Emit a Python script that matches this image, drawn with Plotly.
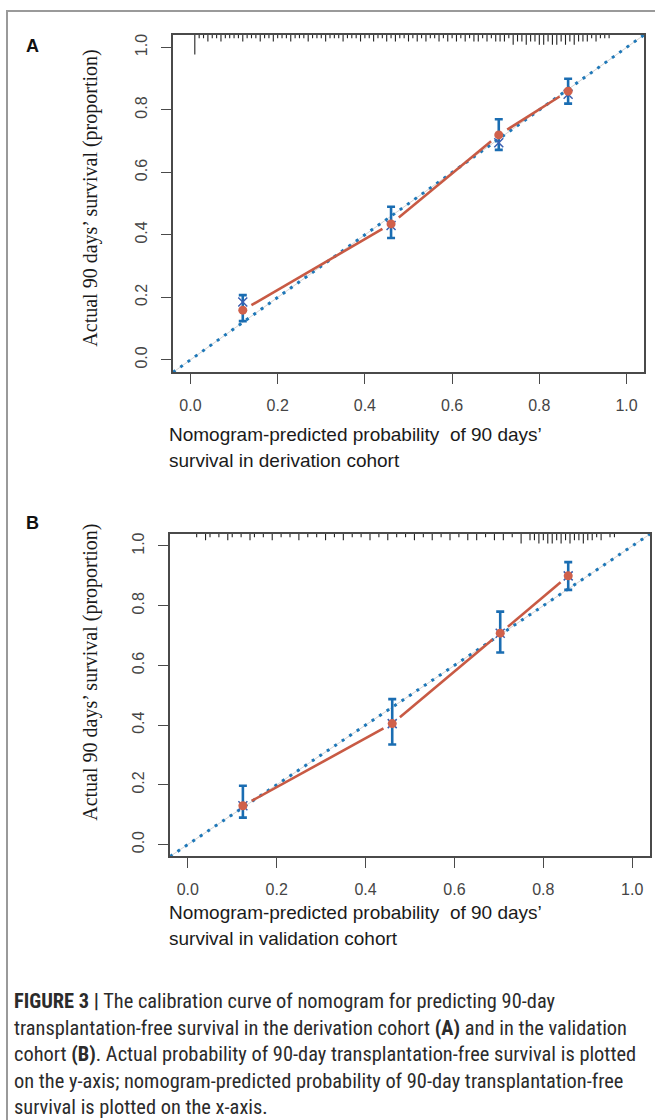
import numpy as np
import plotly.graph_objects as go

W, H = 655, 1120

# ---------------- data ----------------
axis_range = [-0.04, 1.04]
tick_vals = [0.0, 0.2, 0.4, 0.6, 0.8, 1.0]
tick_text = ["0.0", "0.2", "0.4", "0.6", "0.8", "1.0"]

# Panel A (derivation cohort)
pred_a = [0.120, 0.460, 0.707, 0.866]
obs_a = [0.159, 0.435, 0.720, 0.860]
lo_a = [0.124, 0.390, 0.672, 0.820]
hi_a = [0.207, 0.490, 0.770, 0.900]
bc_a = [0.185, 0.430, 0.695, 0.850]

# Panel B (validation cohort)
pred_b = [0.124, 0.460, 0.703, 0.856]
obs_b = [0.130, 0.405, 0.708, 0.900]
lo_b = [0.090, 0.335, 0.643, 0.853]
hi_b = [0.197, 0.487, 0.780, 0.946]
bc_b = [0.130, 0.405, 0.708, 0.900]

# distribution of predicted values (rug at top), position and relative frequency
rug_a_x = [0.01, 0.02, 0.03, 0.04, 0.05, 0.06, 0.07, 0.08, 0.09, 0.10,
           0.11, 0.12, 0.13, 0.14, 0.15, 0.16, 0.17, 0.18, 0.19, 0.20,
           0.21, 0.22, 0.23, 0.24, 0.25, 0.26, 0.27, 0.28, 0.29, 0.30,
           0.31, 0.32, 0.33, 0.34, 0.35, 0.36, 0.37, 0.38, 0.39, 0.40,
           0.41, 0.42, 0.43, 0.44, 0.45, 0.46, 0.47, 0.48, 0.49, 0.50,
           0.51, 0.52, 0.53, 0.54, 0.55, 0.56, 0.57, 0.58, 0.59, 0.60,
           0.61, 0.62, 0.63, 0.64, 0.65, 0.66, 0.67, 0.68, 0.69, 0.70,
           0.71, 0.72, 0.73, 0.74, 0.75, 0.76, 0.77, 0.78, 0.79, 0.80,
           0.81, 0.82, 0.83, 0.84, 0.85, 0.86, 0.87, 0.88, 0.89, 0.90,
           0.91, 0.92, 0.93, 0.94, 0.95, 0.96]
rug_a_n = [6, 1, 1, 2, 1, 1, 2, 1, 1, 1,
           1, 2, 1, 1, 1, 2, 1, 1, 2, 1,
           1, 1, 2, 1, 1, 1, 2, 1, 1, 1,
           2, 1, 1, 1, 2, 1, 1, 1, 2, 1,
           1, 2, 1, 1, 2, 1, 2, 1, 1, 2,
           1, 2, 1, 2, 1, 1, 2, 1, 2, 1,
           2, 1, 2, 1, 2, 2, 1, 2, 1, 2,
           2, 2, 1, 3, 2, 2, 3, 2, 2, 3,
           3, 2, 3, 3, 2, 3, 2, 3, 2, 2,
           2, 1, 2, 1, 1, 1]
rug_b_x = [0.02, 0.04, 0.05, 0.07, 0.09, 0.10, 0.12, 0.14, 0.15, 0.17,
           0.19, 0.21, 0.23, 0.25, 0.27, 0.29, 0.31, 0.33, 0.35, 0.37,
           0.39, 0.41, 0.43, 0.45, 0.47, 0.49, 0.51, 0.53, 0.55, 0.57,
           0.59, 0.61, 0.63, 0.65, 0.67, 0.69, 0.71, 0.73, 0.75, 0.77,
           0.78, 0.79, 0.80, 0.81, 0.82, 0.83, 0.84, 0.85, 0.86, 0.87,
           0.88, 0.89, 0.90, 0.91, 0.92, 0.93, 0.95, 0.96]
rug_b_n = [1, 2, 1, 1, 2, 1, 1, 2, 1, 1,
           2, 1, 1, 2, 1, 1, 2, 1, 2, 1,
           1, 2, 1, 2, 1, 1, 2, 1, 2, 1,
           2, 1, 2, 2, 1, 2, 2, 1, 3, 2,
           2, 3, 2, 3, 3, 2, 3, 2, 3, 2,
           2, 3, 2, 2, 1, 2, 1, 1]

# ---------------- styles ----------------
C_DIAG = "#1f78b8"
C_DIAG_BG = "#d3d3d3"
C_ERR = "#1a6db2"
C_RED_LINE = "#c85a44"
C_RED_DOT = "#d0604b"
C_BC = "#3b5fb0"
C_AXIS = "#4a4a4a"
TICK_FONT = dict(family="Liberation Sans, Arial, sans-serif", size=16, color="#454545")

panels = [
    dict(name="A", x="x", y="y", xd=[173 / W, 644 / W], yd=[1 - 371 / H, 1 - 33 / H],
         pred=pred_a, obs=obs_a, lo=lo_a, hi=hi_a, bc=bc_a, rx=rug_a_x, rn=rug_a_n,
         cohort="derivation"),
    dict(name="B", x="x2", y="y2", xd=[170 / W, 650 / W], yd=[1 - 856 / H, 1 - 533 / H],
         pred=pred_b, obs=obs_b, lo=lo_b, hi=hi_b, bc=bc_b, rx=rug_b_x, rn=rug_b_n,
         cohort="validation"),
]

fig = go.Figure()
span = axis_range[1] - axis_range[0]
GAP_PX = 10.0
RUG_UNIT = 0.0105

for p in panels:
    xr, yr = p["x"], p["y"]
    sx = W * (p["xd"][1] - p["xd"][0]) / span  # px per unit
    sy = H * (p["yd"][1] - p["yd"][0]) / span

    # ideal (45-degree) reference line: faint solid + blue dots
    fig.add_trace(go.Scatter(x=axis_range, y=axis_range, mode="lines",
                             line=dict(color=C_DIAG_BG, width=1),
                             xaxis=xr, yaxis=yr, hoverinfo="skip", showlegend=False))
    fig.add_trace(go.Scatter(x=axis_range, y=axis_range, mode="lines",
                             line=dict(color=C_DIAG, width=3, dash="3px,6px"),
                             xaxis=xr, yaxis=yr, hoverinfo="skip", showlegend=False))

    # rug of predicted values along the top
    rx, ry = [], []
    for xv, nv in zip(p["rx"], p["rn"]):
        rx += [xv, xv, None]
        ry += [axis_range[1], axis_range[1] - RUG_UNIT * nv, None]
    fig.add_trace(go.Scatter(x=rx, y=ry, mode="lines", line=dict(color="#222", width=1.1),
                             xaxis=xr, yaxis=yr, hoverinfo="skip", showlegend=False))

    # calibration line segments with gaps around the points (R type = "b")
    lx, ly = [], []
    pr, ob = np.array(p["pred"]), np.array(p["obs"])
    for i in range(len(pr) - 1):
        dxp = (pr[i + 1] - pr[i]) * sx
        dyp = (ob[i + 1] - ob[i]) * sy
        L = np.hypot(dxp, dyp)
        f = GAP_PX / L
        lx += [pr[i] + f * (pr[i + 1] - pr[i]), pr[i + 1] - f * (pr[i + 1] - pr[i]), None]
        ly += [ob[i] + f * (ob[i + 1] - ob[i]), ob[i + 1] - f * (ob[i + 1] - ob[i]), None]
    fig.add_trace(go.Scatter(x=lx, y=ly, mode="lines", line=dict(color=C_RED_LINE, width=2.6),
                             xaxis=xr, yaxis=yr, hoverinfo="skip", showlegend=False))

    # error bars
    fig.add_trace(go.Scatter(
        x=p["pred"], y=p["obs"], mode="markers", marker=dict(size=1, opacity=0),
        error_y=dict(type="data", symmetric=False,
                     array=[h - o for h, o in zip(p["hi"], p["obs"])],
                     arrayminus=[o - l for o, l in zip(p["obs"], p["lo"])],
                     color=C_ERR, thickness=2.6, width=4),
        xaxis=xr, yaxis=yr, hoverinfo="skip", showlegend=False))

    # bias-corrected estimates
    fig.add_trace(go.Scatter(x=p["pred"], y=p["bc"], mode="markers",
                             marker=dict(symbol="x-thin", size=9, line=dict(color=C_BC, width=1.5)),
                             xaxis=xr, yaxis=yr, hoverinfo="skip", showlegend=False))
    # observed
    fig.add_trace(go.Scatter(x=p["pred"], y=p["obs"], mode="markers",
                             marker=dict(symbol="circle", size=9, color=C_RED_DOT),
                             xaxis=xr, yaxis=yr, hoverinfo="skip", showlegend=False))

axis_common = dict(range=axis_range, tickvals=tick_vals, ticktext=tick_text,
                   showgrid=False, zeroline=False, showline=True, mirror=True,
                   linecolor=C_AXIS, linewidth=1.5, ticks="outside", ticklen=10,
                   tickcolor=C_AXIS, tickwidth=1.3, tickfont=TICK_FONT)

layout_axes = {}
for p in panels:
    kx = "xaxis" if p["x"] == "x" else "xaxis2"
    ky = "yaxis" if p["y"] == "y" else "yaxis2"
    layout_axes[kx] = dict(axis_common, domain=p["xd"], anchor=p["y"], ticklabelstandoff=8)
    layout_axes[ky] = dict(axis_common, domain=p["yd"], anchor=p["x"], tickangle=-90,
                           ticklabelstandoff=8)

fig.update_layout(width=W, height=H, margin=dict(l=0, r=0, t=0, b=0),
                  paper_bgcolor="white", plot_bgcolor="white", showlegend=False,
                  **layout_axes)

ann = []
TITLE_FONT = dict(family="Liberation Sans, Arial, sans-serif", size=19, color="#1a1a1a")
YT_FONT = dict(family="Liberation Serif, Times New Roman, serif", size=20, color="#1a1a1a")
panel_geo = [
    dict(label="A", ly=44, ycen=197, t1=433, t2=459),
    dict(label="B", ly=522, ycen=672, t1=912, t2=938),
]
for p, g in zip(panels, panel_geo):
    ann.append(dict(text="<b>%s</b>" % g["label"], x=24 / W, y=1 - g["ly"] / H,
                    xref="paper", yref="paper", xanchor="left", yanchor="middle",
                    showarrow=False, font=dict(family="Liberation Sans, Arial", size=18, color="#111")))
    ann.append(dict(text="Actual 90 days’ survival (proportion)", x=91 / W, y=1 - g["ycen"] / H,
                    xref="paper", yref="paper", xanchor="center", yanchor="middle",
                    textangle=-90, showarrow=False, font=YT_FONT))
    ann.append(dict(text="Nomogram-predicted probability  of 90 days’", x=167 / W, y=1 - g["t1"] / H,
                    xref="paper", yref="paper", xanchor="left", yanchor="middle",
                    showarrow=False, font=TITLE_FONT))
    ann.append(dict(text="survival in %s cohort" % p["cohort"], x=167 / W, y=1 - g["t2"] / H,
                    xref="paper", yref="paper", xanchor="left", yanchor="middle",
                    showarrow=False, font=TITLE_FONT))

caption_lines = [
    "<b>FIGURE 3 |</b> The calibration curve of nomogram for predicting 90-day",
    "transplantation-free survival in the derivation cohort <b>(A)</b> and in the validation",
    "cohort <b>(B)</b>. Actual probability of 90-day transplantation-free survival is plotted",
    "on the y-axis; nomogram-predicted probability of 90-day transplantation-free",
    "survival is plotted on the x-axis.",
]
CAP_FONT = dict(family="Liberation Sans Narrow, Arial Narrow, Roboto Condensed, sans-serif",
                size=20.4, color="#2b2b2b")
for i, line in enumerate(caption_lines):
    ann.append(dict(text=line, x=12 / W, y=1 - (1001 + 26.6 * i) / H,
                    xref="paper", yref="paper", xanchor="left", yanchor="middle",
                    showarrow=False, font=CAP_FONT))

fig.update_layout(annotations=ann)

# outer frame of the figure panel
fig.add_shape(type="rect", xref="paper", yref="paper",
              x0=7 / W, x1=1.02, y0=-0.02, y1=1 - 9 / H,
              line=dict(color="#9a9a9a", width=2), fillcolor="rgba(0,0,0,0)", layer="below")

fig.write_html("out.html", config={"displayModeBar": False},
               post_script="document.body.style.margin='0px';document.body.style.overflow='hidden';")
